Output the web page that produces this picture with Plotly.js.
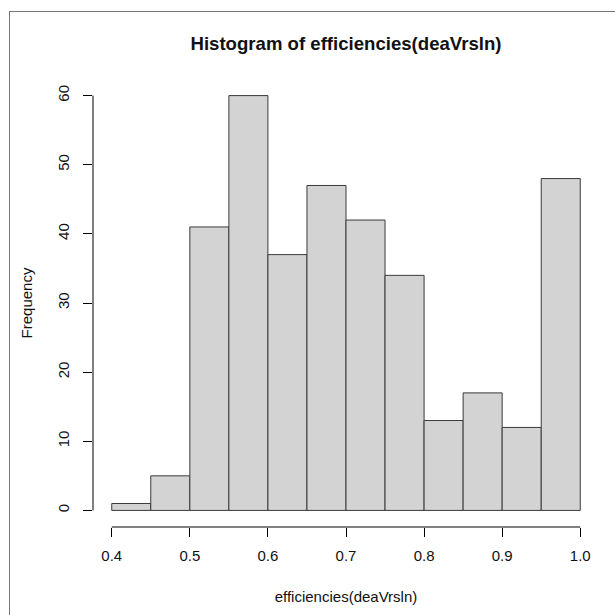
<!DOCTYPE html>
<html>
<head>
<meta charset="utf-8">
<script src="https://cdn.plot.ly/plotly-3.0.1.min.js"></script>
<style>
  html, body { margin: 0; padding: 0; background: #ffffff; }
  #wrap { position: relative; width: 615px; height: 615px; overflow: hidden; }
  #chart { position: absolute; left: 0; top: 0; width: 615px; height: 615px; }
  #frame { position: absolute; left: 9px; top: 11px; width: 620px; height: 620px;
           border-left: 1.5px solid #767676; border-top: 1.5px solid #767676; pointer-events: none; }
</style>
</head>
<body>
<div id="wrap">
  <div id="chart"></div>
  <div id="frame"></div>
</div>
<script>
// Histogram of efficiencies(deaVrsln)
const breaks = [0.4, 0.45, 0.5, 0.55, 0.6, 0.65, 0.7, 0.75, 0.8, 0.85, 0.9, 0.95, 1.0];
const counts = [1, 5, 41, 60, 37, 47, 42, 34, 13, 17, 12, 48];
const xTicks = [0.4, 0.5, 0.6, 0.7, 0.8, 0.9, 1.0];
const xTickText = ["0.4", "0.5", "0.6", "0.7", "0.8", "0.9", "1.0"];
const yTicks = [0, 10, 20, 30, 40, 50, 60];
const yTickText = ["0", "10", "20", "30", "40", "50", "60"];
const titleText = "Histogram of efficiencies(deaVrsln)";
const xTitle = "efficiencies(deaVrsln)";
const yTitle = "Frequency";

const mids = counts.map((c, i) => (breaks[i] + breaks[i + 1]) / 2);
const widths = counts.map((c, i) => breaks[i + 1] - breaks[i]);

// R-style 4% axis extension
const xr = [breaks[0], breaks[breaks.length - 1]];
const yr = [0, Math.max(...yTicks)];
const ext = (r) => { const d = (r[1] - r[0]) * 0.04; return [r[0] - d, r[1] + d]; };

const font = "Liberation Sans, Arial, sans-serif";

const trace = {
  type: "bar",
  x: mids,
  y: counts,
  width: widths,
  marker: { color: "#d3d3d3", line: { color: "#3a3a3a", width: 1 } },
  hoverinfo: "x+y"
};

const axisLineStyle = { color: "#000000", width: 1 };

const layout = {
  width: 615,
  height: 615,
  margin: { l: 93, r: 16, t: 79, b: 88, pad: 0 },
  paper_bgcolor: "#ffffff",
  plot_bgcolor: "#ffffff",
  showlegend: false,
  bargap: 0,
  font: { family: font, color: "#111111", size: 15 },
  title: {
    text: titleText,
    font: { family: font, size: 18.6, color: "#111111", weight: "bold" },
    x: 0.5, xref: "paper",
    y: 1 - 43 / 615, yref: "container", yanchor: "middle"
  },
  xaxis: {
    range: ext(xr),
    tickmode: "array",
    tickvals: xTicks,
    ticktext: xTickText,
    ticks: "outside",
    ticklen: 9,
    tickwidth: 1,
    tickcolor: "#000000",
    ticklabelstandoff: 6,
    showline: false,
    showgrid: false,
    zeroline: false,
    tickfont: { family: font, size: 15, color: "#111111" },
    title: { text: xTitle, font: { family: font, size: 15, color: "#111111" }, standoff: 28 }
  },
  yaxis: {
    range: ext(yr),
    tickmode: "array",
    tickvals: yTicks,
    ticktext: yTickText,
    tickangle: -90,
    ticks: "outside",
    ticklen: 9,
    tickwidth: 1,
    tickcolor: "#000000",
    ticklabelstandoff: 8,
    showline: false,
    showgrid: false,
    zeroline: false,
    tickfont: { family: font, size: 15, color: "#111111" },
    title: { text: yTitle, font: { family: font, size: 15, color: "#111111" }, standoff: 18 }
  },
  shapes: [
    { type: "line", xref: "x", yref: "paper", x0: xTicks[0], x1: xTicks[xTicks.length - 1], y0: 0, y1: 0, line: axisLineStyle },
    { type: "line", xref: "paper", yref: "y", x0: 0, x1: 0, y0: yTicks[0], y1: yTicks[yTicks.length - 1], line: axisLineStyle }
  ]
};

Plotly.newPlot("chart", [trace], layout, { staticPlot: true, displayModeBar: false });
</script>
</body>
</html>
